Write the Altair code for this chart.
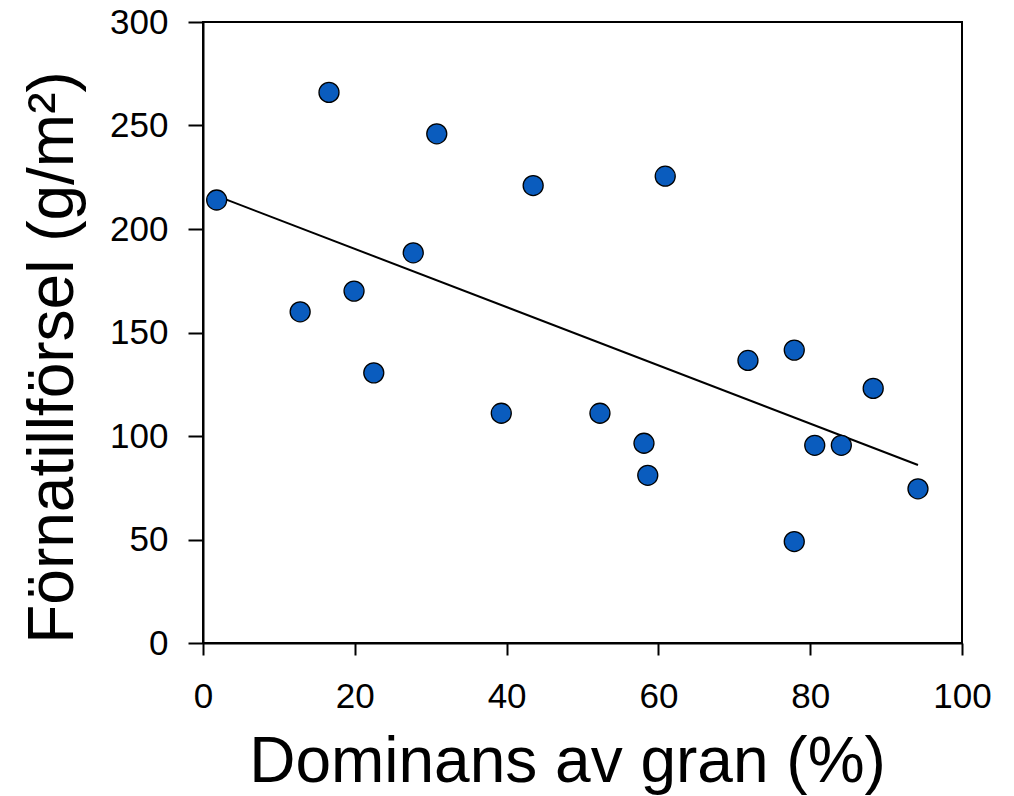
import altair as alt
import pandas as pd

# Data
dominans = [1.8, 12.8, 16.6, 19.9, 22.5, 27.7, 30.8, 39.3, 43.5, 52.3,
            58.1, 58.6, 60.9, 71.8, 77.9, 77.9, 80.6, 84.1, 88.3, 94.2]
fornat = [214, 160, 266, 170, 130.5, 188.5, 246, 111, 221, 111,
          96.5, 81, 225.5, 136.5, 141.5, 49, 95.5, 95.5, 123, 74.5]

fit_x = [1.8, 94.2]
fit_y = [216, 86]

x_ticks = [0, 20, 40, 60, 80, 100]
y_ticks = [0, 50, 100, 150, 200, 250, 300]

pts = pd.DataFrame({"x": dominans, "y": fornat})
fit = pd.DataFrame({"x": fit_x, "y": fit_y})

FONT = "Liberation Sans"

xenc = alt.X("x:Q", scale=alt.Scale(domain=[0, 100], nice=False),
             axis=alt.Axis(values=x_ticks, title="Dominans av gran (%)",
                           tickSize=12, labelPadding=52, labelBaseline="alphabetic",
                           labelFlush=False, labelOverlap=False,
                           titleX=364, titleY=138, titleBaseline="alphabetic"))
yenc = alt.Y("y:Q", scale=alt.Scale(domain=[0, 300], nice=False),
             axis=alt.Axis(values=y_ticks, title="Förnatillförsel (g/m²)",
                           tickSize=15, labelPadding=20,
                           labelFlush=False, labelOverlap=False,
                           titleX=-131, titleY=335, titleBaseline="alphabetic"))

line = alt.Chart(fit).mark_line(color="black", strokeWidth=2).encode(x=xenc, y=yenc)
points = alt.Chart(pts).mark_circle(size=400, color="#0a5cbe", opacity=1,
                                    stroke="black", strokeWidth=1.3).encode(x=xenc, y=yenc)

chart = (line + points).properties(
    width=759, height=621,
    autosize=alt.AutoSizeParams(type="none"),
    padding={"left": 195, "top": 14, "right": 40, "bottom": 153},
).configure_view(stroke="black", strokeWidth=2).configure_axis(
    grid=False, domainColor="black", domainWidth=2, tickColor="black", tickWidth=2,
    labelFont=FONT, labelFontSize=35, labelColor="black",
    titleFont=FONT, titleFontSize=64, titleColor="black", titleFontWeight="normal",
)

chart.save("out.html", embed_options={"renderer": "svg", "actions": False})
